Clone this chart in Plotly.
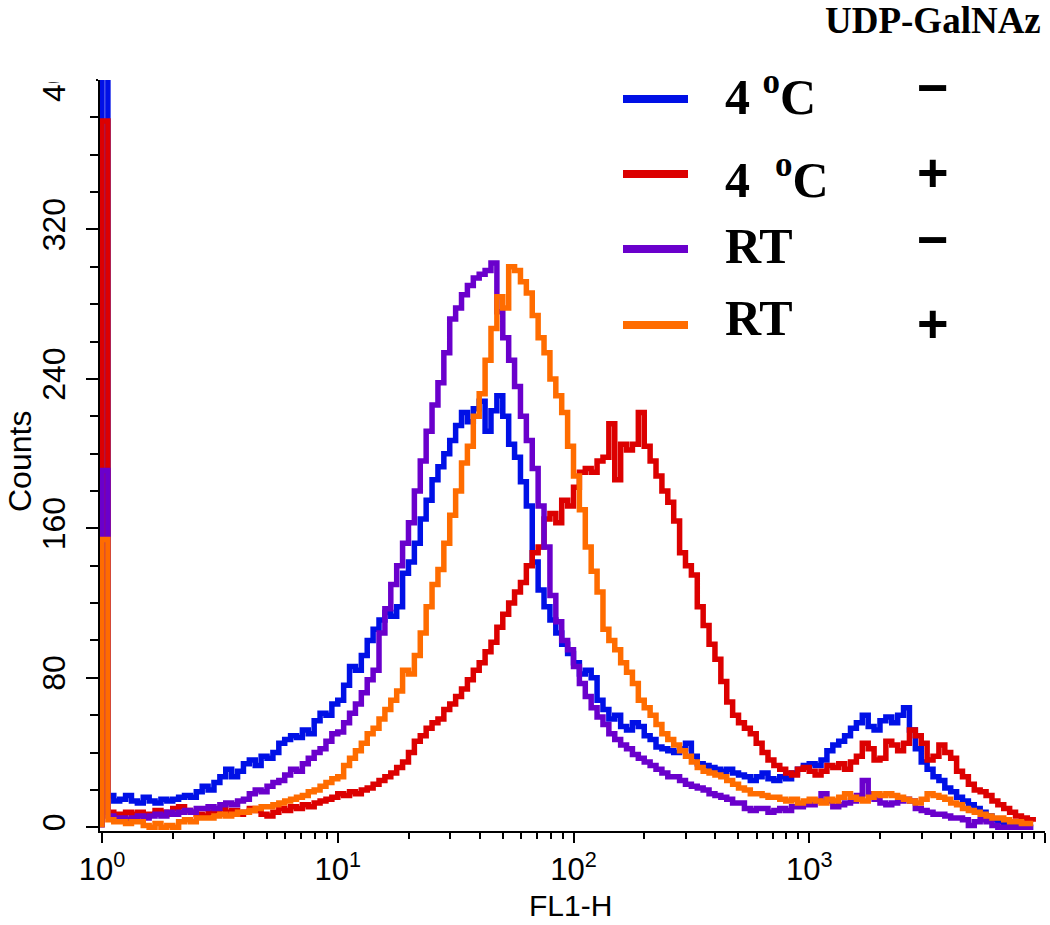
import numpy as np
import plotly.graph_objects as go

# ---- data (histogram channels, 0.025 decade per channel starting at 10^0) ----
BIN_DECADES = 0.025

blue_4C_minus = [520,
    17,14,15,17,14,13,16,14,13,15,14,15,16,17,16,19,
    22,20,24,27,31,27,30,34,36,33, 38,37,40,45,47,49,48,52,50,57, 61,60,66,68,
    76,86,84,92,100,106,111,115,113,118, 136,142,152,165,175,186,193,200,207,215,
    222,217,224,228,212,223,231,220,205,198, 185,172,142,127,118,111,104,98,93,88,
    82,84,80,68,63,58,60,54,52,56, 54,49,47,43,42,41,40,42,45,38,
    34,33,32,31,30,31,29,28,27,25, 27,29,26,25,27,26,29,31,33,34,
    33,36,41,44,46,49,53,56,60,54, 52,57,59,56,60,64,52,42,35,31,
    27,25,21,19,16,14,12,10,8,6, 4,3,2,2,1,1,0,0]

red_4C_plus = [378,
    8,7,7,8,7,8,7,7,9,8,7,10,11,9,8,7,
    6,8,9,10,8,9,7,8,10,9, 7,6,8,10,9,11,10,12,11,13, 14,15,16,18,
    17,19,18,20,21,23,25,27,29,32, 35,40,46,49,53,56,58,63,66,70,
    74,79,84,88,94,99,107,114,120,126, 131,140,147,150,165,168,163,175,172,182,
    190,192,190,196,198,216,186,205,202,205, 222,204,196,188,180,174,164,147,140,135,
    118,108,98,90,78,67,60,56,53,50, 45,40,36,33,31,29,28,31,32,30,
    28,30,33,32,34,31,35,38,45,42, 36,37,46,44,41,45,52,49,45,36,
    38,44,40,37,30,27,23,20,19,17, 14,12,10,8,6,5,4,3]

purple_RT_minus = [191,
    6,5,5,4,5,6,5,6,7,6,8,7,8,9,8,10,
    10,11,10,12,13,12,14,15,18,20, 19,22,24,25,28,31,30,34,37,40, 42,46,50,51,
    56,61,66,72,79,84,104,117,130,140, 152,163,180,196,212,226,238,254,272,278,
    285,290,294,296,298,302,276,262,250,236, 220,207,192,172,150,124,110,100,95,86,
    77,70,64,59,55,50,47,44,42,39, 37,35,33,31,29,27,27,25,23,22,
    21,20,18,17,16,15,13,13,10,9, 10,10,8,9,10,9,11,11,12,12,
    14,18,14,11,12,13,14,17,25,18, 15,13,12,13,14,15,14,10,9,8,
    7,7,6,5,5,4,1,3,4,3, 1,0,0,0,0,0,0,0]

orange_RT_plus = [154,
    4,3,3,2,3,3,1,0,2,0,1,0,3,4,3,5,
    5,5,6,7,6,7,8,8,9,10, 11,11,12,13,14,15,16,17,19,20, 22,24,26,27,
    33,37,41,45,50,53,58,63,68,73, 84,82,92,104,118,130,138,152,167,180,
    195,204,220,232,250,267,284,278,300,298, 292,286,274,262,254,240,231,222,204,188,
    170,150,137,126,106,100,95,88,83,77, 68,64,60,55,50,47,44,41,38,35,
    32,30,29,28,27,25,23,21,20,18, 18,17,16,16,15,14,15,13,14,15,
    14,13,15,14,16,18,16,15,14,16, 18,17,18,17,16,15,14,13,15,18,
    17,16,15,13,12,10,9,8,7,6, 5,5,4,3,3,2,2,2]

series_names = ["4 oC −", "4 oC +", "RT −", "RT +"]
series_values = [blue_4C_minus, red_4C_plus, purple_RT_minus, orange_RT_plus]
series_colors = ["#0010E6", "#DC0000", "#6A00CC", "#FF6C00"]

legend_labels = ["4 <sup>o</sup>C", "4&nbsp; <sup>o</sup>C", "RT", "RT"]
legend_signs = ["−", "+", "−", "+"]

x_tickvals = [1, 10, 100, 1000, 10000]
x_ticktext = ["10<sup>0</sup>", "10<sup>1</sup>", "10<sup>2</sup>", "10<sup>3</sup>", "10<sup>4</sup>"]
x_minor = [m * d for d in [1, 10, 100, 1000] for m in range(2, 10)]
y_tickvals = [0, 80, 160, 240, 320, 400]
y_minor = [v for v in range(20, 400, 20) if v % 80 != 0]

# ---- figure ----
W, H = 1050, 925
ML, MR, MT, MB = 100, 5, 80, 94
PW, PH = W - ML - MR, H - MT - MB
X_START = -0.0085   # axis line sits just left of 10^0, as in the reference

def px2paper(px, py):
    return (px - ML) / PW, (H - MB - py) / PH

fig = go.Figure()
for name, vals, col in zip(series_names, series_values, series_colors):
    ch = np.arange(len(vals))
    xs = 10 ** (ch * BIN_DECADES)
    # histogram outline starts from the baseline at the first channel edge
    fig.add_trace(go.Scatter(
        x=np.concatenate([[xs[0]], xs]), y=[0] + list(vals), mode="lines", name=name,
        line=dict(color=col, width=5.5, shape="hv"), showlegend=False,
        hoverinfo="skip"))

tick_font = dict(family="Liberation Sans, Arial, sans-serif", size=31, color="black")

fig.update_layout(
    width=W, height=H, margin=dict(l=ML, r=MR, t=MT, b=MB, autoexpand=False),
    paper_bgcolor="white", plot_bgcolor="white",
    xaxis=dict(type="log", range=[X_START, 4], tickmode="array", tickvals=x_tickvals,
               ticktext=x_ticktext, ticks="outside", ticklen=10, tickwidth=2,
               tickcolor="black", showline=True, linecolor="black", linewidth=2,
               showgrid=False, zeroline=False, tickfont=tick_font, layer="below traces",
               minor=dict(tickmode="array", tickvals=x_minor, ticks="outside",
                          ticklen=6, tickwidth=2, tickcolor="black", showgrid=False)),
    yaxis=dict(range=[-2, 400], tickmode="array", tickvals=y_tickvals,
               ticks="outside", ticklen=12, tickwidth=2, tickcolor="black",
               tickangle=-90, showline=True, linecolor="black", linewidth=2,
               showgrid=False, zeroline=False, ticklabelstandoff=8, layer="below traces",
               tickfont=dict(family="Liberation Sans, Arial, sans-serif", size=32, color="black"),
               minor=dict(tickmode="array", tickvals=y_minor, ticks="outside",
                          ticklen=8, tickwidth=2, tickcolor="black", showgrid=False)),
)

shapes = []
# white mask above the plot (the reference is cropped at the top of the y axis)
x0, _ = px2paper(0, 0)
x1, _ = px2paper(96, 0)
_, y0 = px2paper(0, 82)
shapes.append(dict(type="rect", xref="paper", yref="paper", x0=x0, x1=x1, y0=y0, y1=1.3,
                   fillcolor="white", line=dict(width=0), layer="above"))

ann = []
leg_y = [99, 174, 249, 325]
text_y = [94, 177, 246, 318]
sign_y = [87, 172, 239, 323]
for col, lab, sg, ly, ty, sy in zip(series_colors, legend_labels, legend_signs, leg_y, text_y, sign_y):
    a, b = px2paper(623, ly)
    c, _ = px2paper(688, ly)
    shapes.append(dict(type="line", xref="paper", yref="paper", x0=a, x1=c, y0=b, y1=b,
                       line=dict(color=col, width=8), layer="above"))
    tx, tyy = px2paper(723, ty)
    ann.append(dict(text=lab, x=tx, y=tyy, xref="paper", yref="paper", xanchor="left",
                    yanchor="middle", showarrow=False,
                    font=dict(family="Liberation Serif, Times New Roman, serif", size=50,
                              color="black", weight="bold")))
    sx, syy = px2paper(933, sy)
    ann.append(dict(text=sg, x=sx, y=syy, xref="paper", yref="paper", xanchor="center",
                    yanchor="middle", showarrow=False,
                    font=dict(family="Liberation Sans, Arial, sans-serif", size=54,
                              color="black", weight="bold")))

ux, uy = px2paper(1043, 20)
ann.append(dict(text="UDP-GalNAz", x=ux, y=uy, xref="paper", yref="paper", xanchor="right",
                yanchor="middle", showarrow=False,
                font=dict(family="Liberation Serif, Times New Roman, serif", size=37,
                          color="black", weight="bold")))
cx, cy = px2paper(20, 462)
ann.append(dict(text="Counts", x=cx, y=cy, xref="paper", yref="paper", textangle=-90,
                xanchor="center", yanchor="middle", showarrow=False,
                font=dict(family="Liberation Sans, Arial, sans-serif", size=32, color="black")))
fx, fy = px2paper(570, 905)
ann.append(dict(text="FL1-H", x=fx, y=fy, xref="paper", yref="paper",
                xanchor="center", yanchor="middle", showarrow=False,
                font=dict(family="Liberation Sans, Arial, sans-serif", size=30, color="black")))

fig.update_layout(shapes=shapes, annotations=ann)
fig.write_html("out.html", config={"displayModeBar": False},
               post_script="document.body.style.margin='0px';document.body.style.overflow='hidden';")
